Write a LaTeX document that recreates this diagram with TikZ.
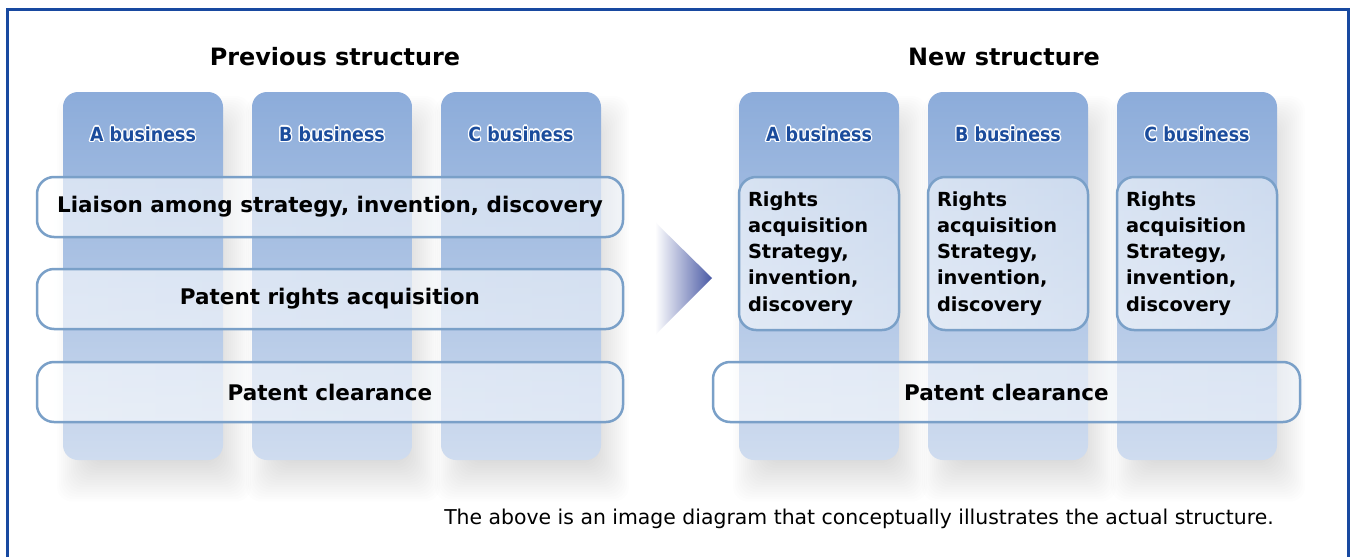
\documentclass[tikz,border=0pt]{standalone}
\usepackage{fontspec}
\setmainfont{DejaVu Sans}
\newfontfamily\condfont{DejaVu Sans Condensed}
\usetikzlibrary{positioning}

\definecolor{framecol}{HTML}{1849A0}
\definecolor{coltop}{HTML}{8CACDA}
\definecolor{colbot}{HTML}{CFDCEF}
\definecolor{barline}{HTML}{7AA0C8}
\definecolor{labelblue}{HTML}{1B4C9C}
\definecolor{arrowblue}{HTML}{4A5AA5}

% white halo round the business labels
\newcommand{\halo}[1]{%
  \makebox[0pt][l]{\textcolor{white}{\raisebox{1.3pt}{#1}}}%
  \makebox[0pt][l]{\textcolor{white}{\raisebox{-1.3pt}{#1}}}%
  \makebox[0pt][l]{\textcolor{white}{\hspace*{1.3pt}#1}}%
  \makebox[0pt][l]{\textcolor{white}{\hspace*{-1.3pt}#1}}%
  \makebox[0pt][l]{\textcolor{white}{\hspace*{0.9pt}\raisebox{0.9pt}{#1}}}%
  \makebox[0pt][l]{\textcolor{white}{\hspace*{-0.9pt}\raisebox{0.9pt}{#1}}}%
  \makebox[0pt][l]{\textcolor{white}{\hspace*{0.9pt}\raisebox{-0.9pt}{#1}}}%
  \makebox[0pt][l]{\textcolor{white}{\hspace*{-0.9pt}\raisebox{-0.9pt}{#1}}}%
  #1}

\begin{document}
\begin{tikzpicture}[
  x=1pt, y=-1pt,
  column/.style={minimum width=160, minimum height=368, rounded corners=15,
    top color=coltop, bottom color=colbot, inner sep=0},
  buslabel/.style={font=\condfont\bfseries\fontsize{19.4}{22}\selectfont, text=labelblue},
  bar/.style={draw=barline, line width=2.5pt, rounded corners=17,
    left color=white, right color=white!85!coltop, fill opacity=0.6, text opacity=1,
    font=\bfseries\fontsize{21.5}{26}\selectfont},
  task/.style={draw=barline, line width=2.5pt, rounded corners=17,
    minimum width=160, minimum height=153, inner xsep=9, inner ysep=0,
    left color=white, right color=white!85!coltop, fill opacity=0.6, text opacity=1,
    align=left, text width=142, font=\bfseries\fontsize{19.4}{26.2}\selectfont},
  title/.style={font=\bfseries\fontsize{23.9}{28}\selectfont}
]
\useasboundingbox (0,0) rectangle (1354,557);
\fill [white] (0,0) rectangle (1354,557);
\draw [framecol, line width=2.6pt] (7.3,557) -- (7.3,9.6) -- (1348.5,9.6) -- (1348.5,557);

% soft shadows
\foreach \c in {143,332,521,819,1008,1197}
  \foreach \e in {-18,-16,...,18}
    \fill [black, opacity=0.008, rounded corners=15]
      (\c-68-\e,114-\e) rectangle (\c+90+\e,480+1.2*\e);

\node [title] (prevtitle) at (335,57) {Previous structure};
\node [title] (newtitle) at (1004,57) {New structure};

% previous structure
\node [column] (prevA) at (143,276) {};
\node [column] (prevB) at (332,276) {};
\node [column] (prevC) at (521,276) {};
\node [buslabel] (prevAlab) at (143,134) {\halo{A business}};
\node [buslabel] (prevBlab) at (332,134) {\halo{B business}};
\node [buslabel] (prevClab) at (521,134) {\halo{C business}};
\node [bar, minimum width=586, minimum height=60] (liaison) at (330,207)
  {Liaison among strategy, invention, discovery};
\node [bar, minimum width=586, minimum height=60] (rights) at (330,299)
  {Patent rights acquisition};
\node [bar, minimum width=586, minimum height=60] (prevclear) at (330,392)
  {Patent clearance};

% arrow
\shade [left color=white, right color=arrowblue]
  (655,222) -- (712,278) -- (655,335) -- cycle;

% new structure
\node [column] (newA) at (819,276) {};
\node [column] (newB) at (1008,276) {};
\node [column] (newC) at (1197,276) {};
\node [buslabel] (newAlab) at (819,134) {\halo{A business}};
\node [buslabel] (newBlab) at (1008,134) {\halo{B business}};
\node [buslabel] (newClab) at (1197,134) {\halo{C business}};
\node [task] (taskA) at (819,253.5)
  {Rights\\acquisition\\Strategy,\\invention,\\discovery};
\node [task] (taskB) at (1008,253.5)
  {Rights\\acquisition\\Strategy,\\invention,\\discovery};
\node [task] (taskC) at (1197,253.5)
  {Rights\\acquisition\\Strategy,\\invention,\\discovery};
\node [bar, minimum width=587, minimum height=60] (newclear) at (1006.5,392)
  {Patent clearance};

\node [font=\fontsize{20.4}{24}\selectfont] (note) at (859,519)
  {The above is an image diagram that conceptually illustrates the actual structure.};
\end{tikzpicture}
\end{document}
